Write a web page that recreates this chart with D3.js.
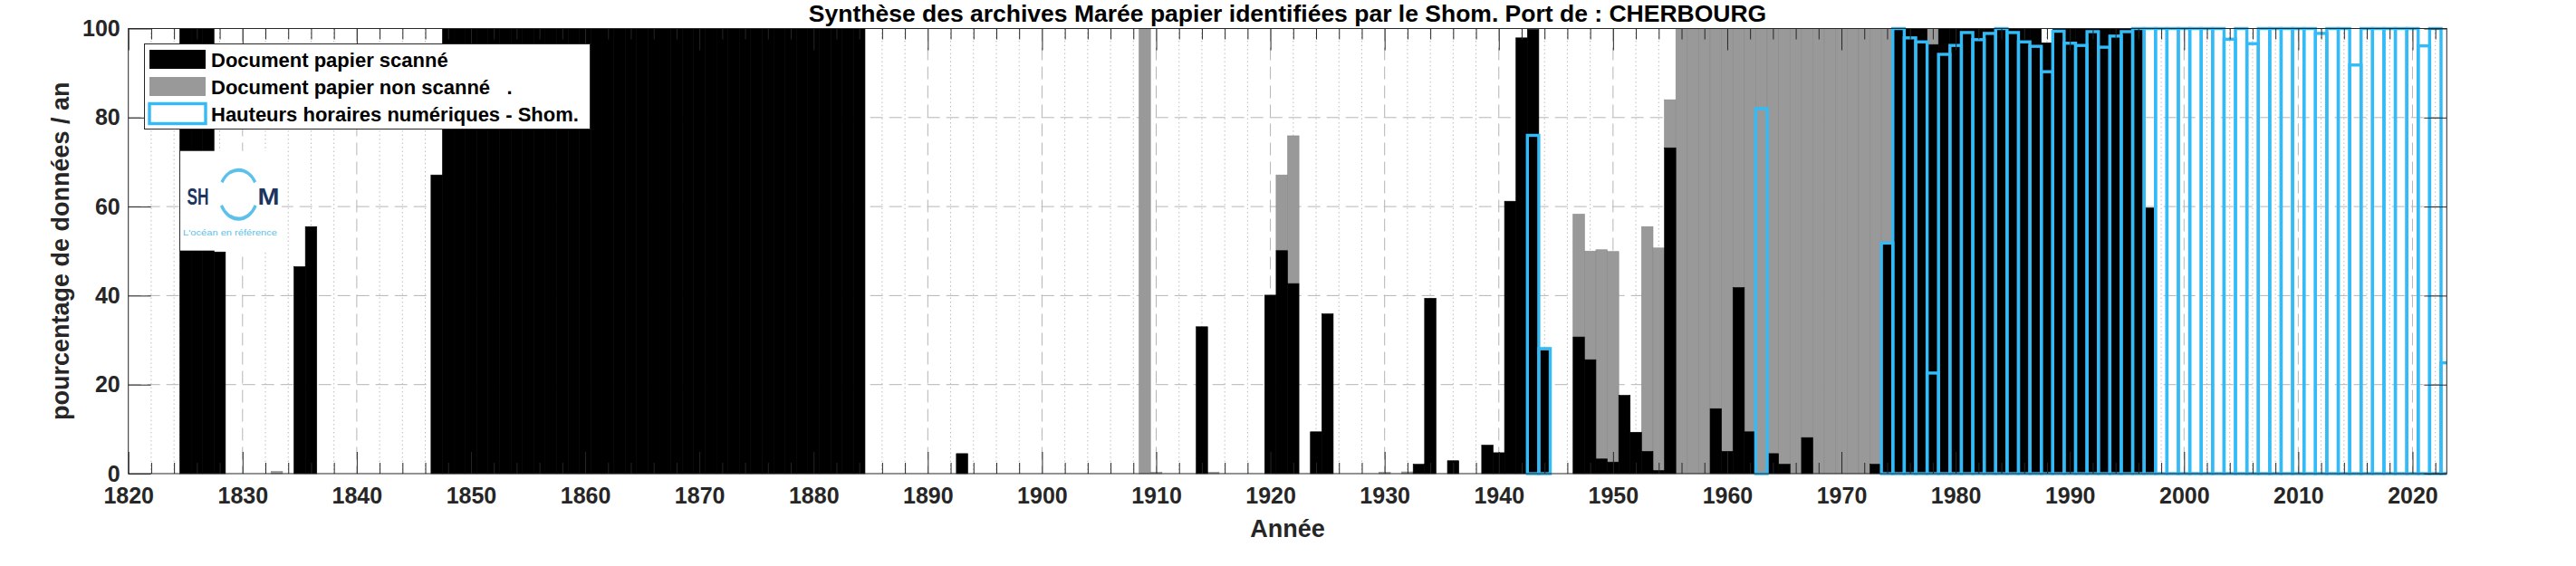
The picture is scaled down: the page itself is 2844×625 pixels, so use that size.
<!DOCTYPE html>
<html>
<head>
<meta charset="utf-8">
<script src="https://cdn.jsdelivr.net/npm/d3@7"></script>
<style>
  html, body { margin: 0; padding: 0; background: #ffffff; }
  svg { display: block; font-family: "Liberation Sans", Arial, Helvetica, sans-serif; }
</style>
</head>
<body>
<svg id="chart" width="2844" height="625"></svg>
<script>
// ---------------- DATA ----------------
const titleText = "Synthèse des archives Marée papier identifiées par le Shom. Port de : CHERBOURG";
const xLabelText = "Année";
const yLabelText = "pourcentage de données / an";
const legendLabels = ["Document papier scanné", "Document papier non scanné   .", "Hauteurs horaires numériques - Shom."];
const xTickValues = [1820, 1830, 1840, 1850, 1860, 1870, 1880, 1890, 1900, 1910, 1920, 1930, 1940, 1950, 1960, 1970, 1980, 1990, 2000, 2010, 2020];
const yTickValues = [0, 20, 40, 60, 80, 100];

// Document papier scanné (black)
const scannedYears = [1825, 1826, 1827, 1828, 1835, 1836, 1847,
  1848, 1849, 1850, 1851, 1852, 1853, 1854, 1855, 1856, 1857, 1858, 1859, 1860, 1861, 1862, 1863, 1864, 1865, 1866,
  1867, 1868, 1869, 1870, 1871, 1872, 1873, 1874, 1875, 1876, 1877, 1878, 1879, 1880, 1881, 1882, 1883, 1884,
  1893, 1914, 1920, 1921, 1922, 1924, 1925, 1933, 1934, 1936, 1939, 1940, 1941, 1942, 1943, 1944,
  1947, 1948, 1949, 1950, 1951, 1952, 1953, 1954, 1955, 1959, 1960, 1961, 1962, 1964, 1965, 1967, 1973,
  1974, 1975, 1976, 1977, 1978, 1979, 1980, 1981, 1982, 1983, 1984, 1985, 1986, 1987, 1988, 1989, 1990, 1991,
  1992, 1993, 1994, 1995, 1996, 1997];
const scannedPct = [100, 100, 100, 49.8, 46.5, 55.5, 67.1,
  100, 100, 100, 100, 100, 100, 100, 100, 100, 100, 100, 100, 100, 100, 100, 100, 100, 100, 100,
  100, 100, 100, 100, 100, 100, 100, 100, 100, 100, 100, 100, 100, 100, 100, 100, 100, 100,
  4.5, 33.0, 40.1, 50.1, 42.7, 9.4, 35.9, 2.1, 39.4, 2.9, 6.4, 4.7, 61.2, 97.9, 99.8, 27.7,
  30.7, 25.6, 3.3, 2.6, 17.6, 9.3, 5.0, 0.7, 73.2, 14.6, 5.0, 41.8, 9.4, 4.5, 2.1, 8.1, 2.1,
  51.5, 100, 100, 100, 96.4, 100, 100, 100, 100, 100, 100, 100, 100, 100, 96.8, 100, 100, 100,
  100, 100, 100, 100, 100, 59.7];

// Document papier non scanné (grey, stacked above the scanned part)
const nonScannedYears = [1833, 1909, 1910, 1915, 1921, 1922, 1930, 1932, 1947, 1948, 1949, 1950, 1953, 1954, 1955,
  1956, 1957, 1958, 1959, 1960, 1961, 1962, 1963, 1964, 1965, 1966, 1967, 1968, 1969, 1970, 1971, 1972, 1973, 1974, 1978];
const nonScannedPct = [0.5, 100, 0.3, 0.3, 17.0, 33.2, 0.3, 0.4, 27.6, 24.4, 47.0, 47.3, 50.5, 50.0, 10.8,
  100, 100, 100, 85.4, 95.0, 58.2, 90.6, 100, 95.5, 97.9, 100, 91.9, 100, 100, 100, 100, 100, 97.9, 48.5, 3.6];

// Hauteurs horaires numériques - Shom (blue outline)
const numericYears = [1943, 1944, 1963,
  1974, 1975, 1976, 1977, 1978, 1979, 1980, 1981, 1982, 1983, 1984, 1985, 1986, 1987, 1988, 1989, 1990, 1991,
  1992, 1993, 1994, 1995, 1996, 1997, 1998, 1999, 2000, 2001, 2002, 2003, 2004, 2005, 2006, 2007, 2008, 2009,
  2010, 2011, 2012, 2013, 2014, 2015, 2016, 2017, 2018, 2019, 2020, 2021, 2022, 2023];
const numericPct = [76.0, 28.1, 82.0,
  51.8, 100, 97.9, 97.0, 22.6, 94.2, 96.2, 99.1, 97.5, 98.9, 100, 99.1, 97.0, 96.0, 90.3, 99.4, 96.7, 96.2,
  99.3, 95.8, 98.3, 99.3, 100, 100, 100, 100, 100, 100, 100, 100, 97.6, 100, 96.6, 100, 100, 100,
  100, 100, 98.9, 100, 100, 91.8, 100, 100, 100, 100, 100, 96.1, 100, 24.9];

// ---------------- DRAWING ----------------
const svg = d3.select("#chart");
const plot = { left: 141.7, right: 2701.3, top: 31.5, bottom: 523 };
const axisColor = "#262626";
const blue = "#33bbf7";

const x = d3.scaleLinear().domain([1820, 2023]).range([plot.left, plot.right]);
const y = d3.scaleLinear().domain([0, 100]).range([plot.bottom, plot.top]);

const scanned = d3.zip(scannedYears, scannedPct).map(([yr, v]) => ({ yr, v }));
const scannedMap = new Map(scanned.map(d => [d.yr, d.v]));
const nonScanned = d3.zip(nonScannedYears, nonScannedPct).map(([yr, v]) => ({ yr, v, base: scannedMap.get(yr) || 0 }));
const numeric = d3.zip(numericYears, numericPct).map(([yr, v]) => ({ yr, v }));

svg.append("defs").append("clipPath").attr("id", "plotClip")
  .append("rect")
  .attr("x", plot.left).attr("y", plot.top - 12)
  .attr("width", plot.right - plot.left).attr("height", plot.bottom - plot.top + 24);

// grid
const gridG = svg.append("g");
const minorYears = d3.range(1822, 2023, 2).filter(v => v % 10 !== 0);
gridG.selectAll("line.minor").data(minorYears).join("line")
  .attr("x1", d => x(d)).attr("x2", d => x(d))
  .attr("y1", plot.top).attr("y2", plot.bottom)
  .attr("stroke", "#bdbdbd").attr("stroke-width", 1).attr("stroke-dasharray", "1.5,3");
gridG.selectAll("line.majx").data(xTickValues.filter(v => v > 1820)).join("line")
  .attr("x1", d => x(d)).attr("x2", d => x(d))
  .attr("y1", plot.top).attr("y2", plot.bottom)
  .attr("stroke", "#b5b5b5").attr("stroke-width", 1).attr("stroke-dasharray", "14,7");
gridG.selectAll("line.majy").data(yTickValues.filter(v => v > 0 && v < 100)).join("line")
  .attr("x1", plot.left).attr("x2", plot.right)
  .attr("y1", d => y(d)).attr("y2", d => y(d))
  .attr("stroke", "#b5b5b5").attr("stroke-width", 1).attr("stroke-dasharray", "14,7");

// bars
const barsG = svg.append("g").attr("clip-path", "url(#plotClip)");
barsG.selectAll("rect.ns").data(nonScanned).join("rect")
  .attr("x", d => x(d.yr - 0.5)).attr("width", d => x(d.yr + 0.5) - x(d.yr - 0.5))
  .attr("y", d => y(d.base + d.v)).attr("height", d => y(d.base) - y(d.base + d.v))
  .attr("fill", "#999999").attr("stroke", "#8a8a8a").attr("stroke-width", 0.6);
barsG.selectAll("rect.sc").data(scanned).join("rect")
  .attr("x", d => x(d.yr - 0.5)).attr("width", d => x(d.yr + 0.5) - x(d.yr - 0.5))
  .attr("y", d => y(d.v)).attr("height", d => y(0) - y(d.v))
  .attr("fill", "#000000").attr("stroke", "#000000").attr("stroke-width", 0.6);
barsG.selectAll("rect.nu").data(numeric).join("rect")
  .attr("x", d => x(d.yr - 0.5)).attr("width", d => x(d.yr + 0.5) - x(d.yr - 0.5))
  .attr("y", d => y(d.v)).attr("height", d => y(0) - y(d.v))
  .attr("fill", "none").attr("stroke", blue).attr("stroke-width", 3.4);

// axes (ticks inward)
function styleAxis(g) {
  g.select(".domain").remove();
  g.selectAll(".tick line").attr("stroke", axisColor).attr("stroke-width", 1);
  g.selectAll(".tick text").attr("fill", axisColor).attr("font-size", "25px").attr("font-weight", "bold")
    .attr("font-family", '"Liberation Sans", Arial, Helvetica, sans-serif');
}
svg.append("g").attr("transform", `translate(0,${plot.bottom})`)
  .call(d3.axisBottom(x).tickValues(xTickValues).tickFormat(d3.format("d")).tickSize(-24).tickPadding(15.5))
  .call(styleAxis);
svg.append("g").attr("transform", `translate(0,${plot.bottom})`)
  .call(d3.axisBottom(x).tickValues(minorYears).tickFormat("").tickSize(-12)).call(styleAxis);
svg.append("g").attr("transform", `translate(0,${plot.top})`)
  .call(d3.axisTop(x).tickValues(xTickValues).tickFormat("").tickSize(-24)).call(styleAxis);
svg.append("g").attr("transform", `translate(0,${plot.top})`)
  .call(d3.axisTop(x).tickValues(minorYears).tickFormat("").tickSize(-12)).call(styleAxis);
svg.append("g").attr("transform", `translate(${plot.left},0)`)
  .call(d3.axisLeft(y).tickValues(yTickValues).tickSize(-25).tickPadding(9)).call(styleAxis);
svg.append("g").attr("transform", `translate(${plot.right},0)`)
  .call(d3.axisRight(y).tickValues(yTickValues).tickFormat("").tickSize(-25)).call(styleAxis);

// frame
svg.append("rect")
  .attr("x", plot.left).attr("y", plot.top)
  .attr("width", plot.right - plot.left).attr("height", plot.bottom - plot.top)
  .attr("fill", "none").attr("stroke", axisColor).attr("stroke-width", 1);

// labels
svg.append("text").attr("x", (plot.left + plot.right) / 2).attr("y", 24)
  .attr("text-anchor", "middle").attr("font-size", "26.5px").attr("font-weight", "bold").attr("fill", "#000")
  .text(titleText);
svg.append("text").attr("x", (plot.left + plot.right) / 2).attr("y", 593)
  .attr("text-anchor", "middle").attr("font-size", "27px").attr("font-weight", "bold").attr("fill", axisColor)
  .text(xLabelText);
svg.append("text").attr("transform", `translate(76,${(plot.top + plot.bottom) / 2}) rotate(-90)`)
  .attr("text-anchor", "middle").attr("font-size", "27px").attr("font-weight", "bold").attr("fill", axisColor)
  .text(yLabelText);

// Shom logo (white patch over the plot)
const logo = svg.append("g");
logo.append("rect").attr("x", 199).attr("y", 166.7).attr("width", 112).attr("height", 110).attr("fill", "#ffffff");
const ring = logo.append("g").attr("transform", "translate(263.3,214.7) scale(1,1.27)");
const arcGen = d3.arc().innerRadius(19.6).outerRadius(22.8);
ring.append("path").attr("d", arcGen({ startAngle: -1.05, endAngle: 1.05 })).attr("fill", "#5cc1ea");
ring.append("path").attr("d", arcGen({ startAngle: Math.PI - 1.1, endAngle: Math.PI + 1.1 })).attr("fill", "#5cc1ea");
logo.append("text").attr("x", 206.5).attr("y", 225.5).attr("font-size", "26px").attr("font-weight", "bold")
  .attr("fill", "#1c3561").attr("textLength", 24).attr("lengthAdjust", "spacingAndGlyphs").text("SH");
logo.append("text").attr("x", 284.5).attr("y", 225.5).attr("font-size", "26px").attr("font-weight", "bold")
  .attr("fill", "#1c3561").attr("textLength", 24).attr("lengthAdjust", "spacingAndGlyphs").text("M");
logo.append("text").attr("x", 202).attr("y", 259.5).attr("font-size", "9px")
  .attr("fill", "#5cc1ea").attr("textLength", 104).attr("lengthAdjust", "spacingAndGlyphs").text("L'océan en référence");

// legend
const leg = svg.append("g");
leg.append("rect").attr("x", 159.5).attr("y", 48.5).attr("width", 492).attr("height", 94)
  .attr("fill", "#ffffff").attr("stroke", axisColor).attr("stroke-width", 1);
const legRows = [
  { label: legendLabels[0], fill: "#000000", stroke: "none", cy: 65.5 },
  { label: legendLabels[1], fill: "#999999", stroke: "none", cy: 95.5 },
  { label: legendLabels[2], fill: "none", stroke: blue, cy: 125.5 }
];
legRows.forEach(r => {
  if (r.stroke === "none") {
    leg.append("rect").attr("x", 165).attr("y", r.cy - 10.5).attr("width", 62).attr("height", 21).attr("fill", r.fill);
  } else {
    leg.append("rect").attr("x", 165).attr("y", r.cy - 11).attr("width", 62).attr("height", 22)
      .attr("fill", "none").attr("stroke", r.stroke).attr("stroke-width", 3.4);
  }
  leg.append("text").attr("x", 233).attr("y", r.cy + 8.5).attr("font-size", "22px").attr("font-weight", "bold")
    .attr("fill", "#000").style("white-space", "pre").attr("xml:space", "preserve").text(r.label);
});
</script>
</body>
</html>
